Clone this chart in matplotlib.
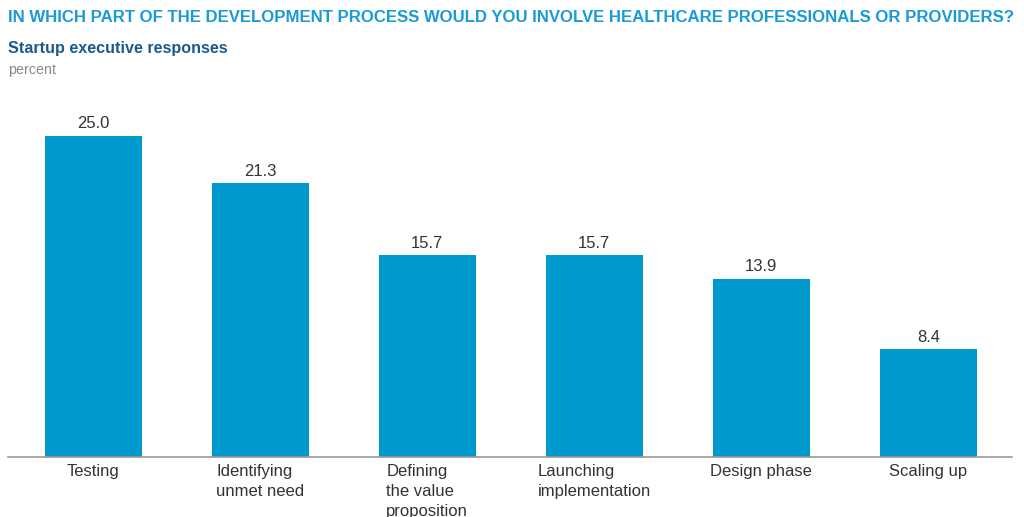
import matplotlib.pyplot as plt

# --- DATOS ---
categorias = ["Testing", "Identifying\nunmet need", "Defining\nthe value\nproposition",
              "Launching\nimplementation", "Design phase", "Scaling up"]
valores = [25.0, 21.3, 15.7, 15.7, 13.9, 8.4]

titulo = "IN WHICH PART OF THE DEVELOPMENT PROCESS WOULD YOU INVOLVE HEALTHCARE PROFESSIONALS OR PROVIDERS?"
subtitulo = "Startup executive responses"
unidad = "percent"

plt.rcParams['font.family'] = ['Liberation Sans', 'DejaVu Sans']

fig = plt.figure(figsize=(10.24, 5.17), dpi=100)
ax = fig.add_axes([8 / 1024, 1 - 457 / 517, 1004 / 1024, 357 / 517])

x = range(len(valores))
ax.bar(x, valores, width=0.58, color="#0099CE")

for xi, v in zip(x, valores):
    ax.text(xi, v + 0.35, f"{v:.1f}", ha="center", va="bottom", fontsize=12, color="#333333")

ax.set_xlim(-0.51, 5.5)
ax.set_ylim(0, 27.8)
ax.set_yticks([])
ax.set_xticks(list(x))
ax.set_xticklabels(categorias, fontsize=12, color="#333333", multialignment="left",
                   linespacing=1.4)
ax.tick_params(axis="x", length=0, pad=5)

for lado in ["top", "right", "left"]:
    ax.spines[lado].set_visible(False)
ax.spines["bottom"].set_color("#999999")
ax.spines["bottom"].set_linewidth(1.2)

# --- TEXTOS ---
# el título original usa una fuente estrecha: ajustamos el tamaño para que quepa en el ancho
t = fig.text(8 / 1024, 1 - 18 / 517, titulo, fontsize=14, fontweight="bold",
             color="#1A9AD6", va="center", ha="left")
renderer = fig.canvas.get_renderer()
ancho = t.get_window_extent(renderer).width
t.set_fontsize(14 * 1008 / ancho)

fig.text(8 / 1024, 1 - 48 / 517, subtitulo, fontsize=11.6, fontweight="bold",
         color="#1B5A8F", va="center", ha="left")
fig.text(8 / 1024, 1 - 70 / 517, unidad, fontsize=10.3, color="#888888", va="center", ha="left")

fig.savefig("out.png", dpi=100)
